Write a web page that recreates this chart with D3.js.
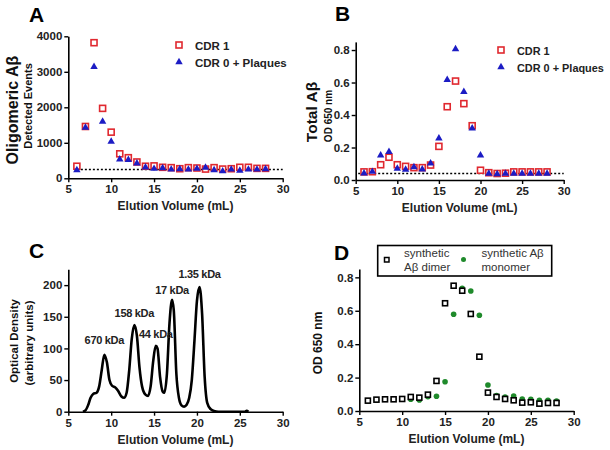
<!DOCTYPE html>
<html><head><meta charset="utf-8">
<script src="https://cdn.jsdelivr.net/npm/d3@7"></script>
<style>body{margin:0;background:#fff}text{font-family:"Liberation Sans",Arial,sans-serif}</style>
</head><body><svg id="c" width="610" height="450"></svg>
<script>
// ---------- DATA ----------
const volumes = [6,7,8,9,10,11,12,13,14,15,16,17,18,19,20,21,22,23,24,25,26,27,28];
const xTicks = [5,10,15,20,25,30];

// Panel A: Oligomeric Abeta (detected events)
const aCDR1    = [340,1460,3820,1970,1300,690,580,460,340,350,310,300,270,300,290,260,300,260,270,310,310,280,280];
const aCDR0P   = [230,1430,3140,1600,1035,535,520,420,310,270,290,250,260,250,270,300,230,200,250,220,250,250,260];
const aThreshold = 250;
const aTicks = [0,1000,2000,3000,4000];

// Panel B: Total Abeta (OD 650 nm)
const bCDR1  = [0.050,0.051,0.094,0.140,0.094,0.084,0.076,0.076,0.092,0.207,0.451,0.609,0.470,0.334,0.060,0.045,0.040,0.042,0.050,0.050,0.050,0.050,0.050];
const bCDR0P = [0.041,0.051,0.152,0.174,0.070,0.064,0.080,0.066,0.103,0.256,0.617,0.806,0.543,0.318,0.152,0.040,0.037,0.040,0.040,0.040,0.040,0.040,0.040];
const bThreshold = 0.04;
const odTicks = [0,0.2,0.4,0.6,0.8];

// Panel C: calibration chromatogram
const cVolume = [6.7,7.0,7.3,7.6,7.9,8.3,8.6,8.9,9.2,9.5,9.8,10.1,10.5,10.8,11.2,11.5,11.8,12.1,12.4,12.7,13.0,13.3,13.6,14.0,14.3,14.6,14.9,15.2,15.4,15.7,16.0,16.2,16.5,16.8,17.1,17.3,17.6,17.9,18.2,18.5,18.8,19.1,19.4,19.7,20.0,20.3,20.6,20.9,21.2,21.6,22.0,22.5,25.6,25.8,26.0];
const cDensity = [0,2,10,22,28,30,40,66,90,78,50,41,38,33,24,22,30,65,115,137,120,70,40,27,25,40,80,104,100,55,32,30,60,140,177,160,60,22,10,8,11,22,50,110,175,197,155,55,14,4,1,0,0,1.5,0];
const cTicks = [0,50,100,150,200];
const cMarkers = [
  {label:"670 kDa", vol:9.2, y:344},
  {label:"158 kDa", vol:12.7, y:317},
  {label:"44 kDa", vol:15.2, y:337.5},
  {label:"17 kDa", vol:17.1, y:294},
  {label:"1.35 kDa", vol:20.3, y:278}
];

// Panel D: synthetic standards
const dDimer   = [0.062,0.068,0.070,0.070,0.072,0.084,0.080,0.098,0.180,0.645,0.750,0.720,0.581,0.325,0.110,0.084,0.072,0.064,0.050,0.052,0.044,0.048,0.048];
const dMonomer = [0.060,0.066,0.070,0.070,0.072,0.070,0.066,0.086,0.088,0.175,0.579,0.734,0.718,0.573,0.156,0.092,0.084,0.090,0.072,0.070,0.064,0.064,0.060];

// ---------- STYLE ----------
const RED = "#e0282f", BLUE = "#1c1cc4", GREEN = "#1f8a2b", BLACK = "#000";
const svg = d3.select("#c");
const F = '"Liberation Sans",Arial,sans-serif';

function panel(box, yDomain, yTicks, fmt){
  const x = d3.scaleLinear().domain([5,30]).range([box.x0, box.x1]);
  const y = d3.scaleLinear().domain(yDomain).range([box.y0, box.y1]);
  const gx = svg.append("g").attr("transform",`translate(0,${box.y0})`)
    .call(d3.axisBottom(x).tickValues(xTicks).tickSize(4).tickSizeOuter(0).tickPadding(3));
  const gy = svg.append("g").attr("transform",`translate(${box.x0},0)`)
    .call(d3.axisLeft(y).tickValues(yTicks).tickSize(4).tickSizeOuter(0).tickPadding(2).tickFormat(fmt));
  [gx,gy].forEach(g=>{
    g.select(".domain").attr("stroke","#000").attr("stroke-width",1.6);
    g.selectAll(".tick line").attr("stroke","#000").attr("stroke-width",1.4);
    g.selectAll(".tick text").attr("fill","#222").style("font-family",F)
      .style("font-size","11.5px").style("font-weight","bold");
  });
  svg.append("text").attr("x",(box.x0+box.x1)/2).attr("y",box.y0+32)
    .attr("text-anchor","middle").style("font-size","12px").style("font-weight","bold").attr("fill","#222")
    .text("Elution Volume (mL)");
  return {x,y};
}
function letter(t,x,y){
  svg.append("text").attr("x",x).attr("y",y).style("font-size","21px").style("font-weight","bold").text(t);
}
function yTitle(t,x,cy,size,weight){
  svg.append("text").attr("transform",`translate(${x},${cy}) rotate(-90)`).attr("text-anchor","middle")
    .attr("dominant-baseline","central").style("font-size",size).style("font-weight",weight).attr("fill","#111").text(t);
}
function squares(s, xs, ys, color, size, sw){
  svg.append("g").selectAll("rect").data(volumes.map((v,i)=>[v,ys[i]])).join("rect")
    .attr("x",d=>s.x(d[0])-size/2).attr("y",d=>s.y(d[1])-size/2).attr("width",size).attr("height",size)
    .attr("fill","#fff").attr("stroke",color).attr("stroke-width",sw);
}
function triangles(s, ys){
  svg.append("g").selectAll("path").data(volumes.map((v,i)=>[v,ys[i]])).join("path")
    .attr("d",d3.symbol(d3.symbolTriangle,24)).attr("transform",d=>`translate(${s.x(d[0])},${s.y(d[1])})`)
    .attr("fill",BLUE);
}
function threshold(s, x0, v){
  svg.append("line").attr("x1",s.x(x0)).attr("x2",s.x(30)).attr("y1",s.y(v)).attr("y2",s.y(v))
    .attr("stroke","#000").attr("stroke-width",1.5).attr("stroke-dasharray","2,2");
}
function legendAB(x, y, fs){
  svg.append("rect").attr("x",x-3).attr("y",y-3).attr("width",6).attr("height",6).attr("fill","#fff").attr("stroke",RED).attr("stroke-width",1.6);
  svg.append("path").attr("d",d3.symbol(d3.symbolTriangle,24)).attr("transform",`translate(${x},${y+17})`).attr("fill",BLUE);
  svg.append("text").attr("x",x+16).attr("y",y+4.5).style("font-size",fs).style("font-weight","bold").attr("fill","#222").text("CDR 1");
  svg.append("text").attr("x",x+16).attr("y",y+21.5).style("font-size",fs).style("font-weight","bold").attr("fill","#222").text("CDR 0 + Plaques");
}

// ---------- PANEL A ----------
const A = panel({x0:68.3,x1:282.7,y0:178.3,y1:36.3},[0,4000],aTicks,d3.format("d"));
letter("A",29,22);
yTitle("Oligomeric A\u03b2",12,110,"16px","bold");
yTitle("Detected Events",28,106,"11px","bold");
threshold(A,6,aThreshold);
squares(A,volumes,aCDR1,RED,6,1.6);
triangles(A,aCDR0P);
legendAB(179,45,"11.5px");

// ---------- PANEL B ----------
const B = panel({x0:355.7,x1:563.7,y0:180,y1:41.9},[0,0.85],odTicks,d3.format(".1f"));
letter("B",335,21);
yTitle("Total A\u03b2",311,112,"15.5px","bold");
yTitle("OD 650 nm",328,116,"10px","bold");
threshold(B,5.3,bThreshold);
squares(B,volumes,bCDR1,RED,6,1.6);
triangles(B,bCDR0P);
legendAB(501,50,"10.9px");

// ---------- PANEL C ----------
const C = panel({x0:68.3,x1:282.7,y0:411.7,y1:269.3},[0,225],cTicks,d3.format("d"));
letter("C",29,258);
yTitle("Optical Density",14,341,"11.5px","bold");
yTitle("(arbitrary units)",29,343,"11.5px","bold");
svg.append("path").datum(cVolume.map((v,i)=>[v,cDensity[i]]))
  .attr("d",d3.line().x(d=>C.x(d[0])).y(d=>C.y(d[1])).curve(d3.curveMonotoneX))
  .attr("fill","none").attr("stroke","#000").attr("stroke-width",2.6).attr("stroke-linejoin","round");
svg.append("g").selectAll("text").data(cMarkers).join("text")
  .attr("x",d=>C.x(d.vol)).attr("y",d=>d.y).attr("text-anchor","middle")
  .style("font-size","11px").style("font-weight","bold").attr("fill","#222").style("letter-spacing","-0.3px")
  .text(d=>d.label);

// ---------- PANEL D ----------
const D = panel({x0:359.3,x1:573.7,y0:411,y1:269},[0,0.85],odTicks,d3.format(".1f"));
letter("D",334,260);
yTitle("OD 650 nm",318,343,"12px","bold");
svg.append("g").selectAll("circle").data(volumes.map((v,i)=>[v,dMonomer[i]])).join("circle")
  .attr("cx",d=>D.x(d[0])).attr("cy",d=>D.y(d[1])).attr("r",2.8).attr("fill",GREEN);
squares(D,volumes,dDimer,BLACK,5,1.6);
// legend
svg.append("rect").attr("x",377.7).attr("y",245.5).attr("width",174).attr("height",30.5)
  .attr("fill","#fff").attr("stroke","#000").attr("stroke-width",1.6);
svg.append("rect").attr("x",384.5).attr("y",257.5).attr("width",4.5).attr("height",4.5).attr("fill","#fff").attr("stroke","#000").attr("stroke-width",1.5);
svg.append("circle").attr("cx",463.5).attr("cy",259.5).attr("r",2.5).attr("fill",GREEN);
[["synthetic",404,257],["A\u03b2 dimer",404,270.5],["synthetic A\u03b2",481.5,257],["monomer",481.5,270.5]].forEach(t=>{
  svg.append("text").attr("x",t[1]).attr("y",t[2]).style("font-size","11.5px").attr("fill","#333").text(t[0]);
});
</script></body></html>
